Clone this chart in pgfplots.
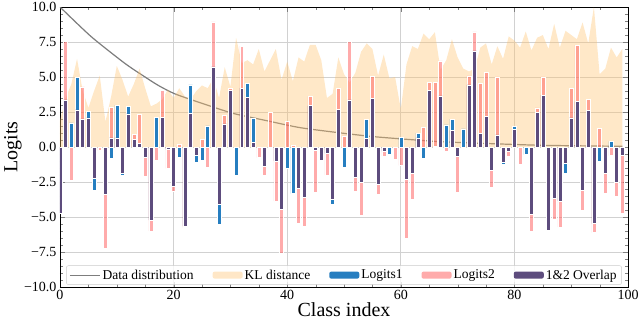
\documentclass[border=0pt]{standalone}
\usepackage{fontspec}
\setmainfont{Liberation Serif}
\usepackage{pgfplots}
\pgfplotsset{compat=1.18}
\usepackage{pgfplotstable}
\usetikzlibrary{calc}

\definecolor{klfill}{RGB}{255,195,110}
\definecolor{l1blue}{RGB}{38,126,192}
\definecolor{l2pink}{RGB}{255,88,88}
\definecolor{ovpurple}{RGB}{93,76,125}
\definecolor{distgray}{RGB}{125,125,125}

% per class: pp/pb/po = positive pink/blue/overlap tops, np/nb/no = negative
\pgfplotstableread{
x pp pb po np nb no
0 nan nan nan nan nan -4.70
1 7.57 nan 3.36 nan nan nan
2 nan 1.73 nan -2.35 nan nan
3 nan 4.96 2.65 nan nan nan
4 4.30 nan 2.01 nan nan nan
5 nan 2.55 2.08 nan nan nan
6 nan nan nan nan -3.10 -2.24
7 nan nan nan -0.25 nan nan
8 nan nan nan -7.20 nan -3.39
9 2.84 nan 0.66 nan -0.78 nan
10 nan 3.00 0.66 nan nan nan
11 nan nan nan nan -2.05 -1.84
12 nan 2.89 2.36 nan nan nan
13 0.90 nan 0.52 nan nan nan
14 2.32 nan 0.24 nan nan nan
15 nan nan nan -2.12 nan -0.71
16 nan nan nan -6.00 nan -5.22
17 nan 2.10 nan -0.94 nan nan
18 4.07 nan 2.10 nan nan nan
19 nan nan nan -1.53 nan -0.19
20 nan nan nan -3.18 nan -2.82
21 0.19 nan nan nan -0.71 nan
22 nan nan nan -5.76 nan -5.65
23 nan 4.44 2.43 nan nan nan
24 nan nan nan nan -1.06 -0.59
25 0.52 nan nan nan -0.94 nan
26 nan 1.51 nan -1.46 nan nan
27 8.94 nan 5.72 nan nan nan
28 nan nan nan nan -5.53 -4.12
29 2.25 nan 1.65 nan nan nan
30 4.20 nan 4.07 nan nan nan
31 nan nan nan nan -2.00 nan
32 7.20 nan 4.20 nan nan nan
33 nan 4.54 3.55 nan nan nan
34 nan 2.08 0.35 nan nan nan
35 nan nan nan -0.75 nan nan
36 nan nan nan -2.05 nan -1.34
37 2.48 nan nan nan nan nan
38 nan nan nan -3.84 nan -0.99
39 nan nan nan -7.60 nan -4.42
40 1.84 nan nan nan -1.50 nan
41 0.12 nan nan nan -3.33 nan
42 nan nan nan -5.46 nan -2.93
43 nan nan nan -5.65 nan -3.57
44 3.62 nan 2.95 nan nan nan
45 nan nan nan -3.20 nan -0.20
46 nan nan nan nan -1.04 -0.97
47 nan nan nan -2.00 nan -0.45
48 nan nan nan nan -4.12 -3.76
49 4.20 nan 2.67 nan nan nan
50 0.80 nan nan nan -1.44 nan
51 7.57 nan 3.36 nan nan nan
52 nan nan nan -3.18 nan -2.16
53 nan nan nan -4.89 nan -2.54
54 nan 1.96 0.59 nan nan nan
55 5.05 nan 3.50 nan nan nan
56 nan nan nan -3.36 nan -2.64
57 nan nan nan -0.66 nan -0.31
58 nan nan nan nan -0.54 nan
59 nan nan nan -0.89 nan nan
60 nan 0.71 nan -1.32 nan nan
61 nan nan nan -6.54 nan -2.30
62 nan nan nan -3.70 nan -1.84
63 nan 0.99 0.66 nan nan nan
64 1.42 nan nan nan -0.82 nan
65 4.61 nan 4.07 nan nan nan
66 4.61 nan 0.05 nan nan nan
67 6.15 nan 3.66 nan nan nan
68 nan 1.58 nan -0.30 nan nan
69 nan 2.00 1.18 nan nan nan
70 nan nan nan -3.25 nan -0.64
71 nan 1.30 nan nan nan nan
72 5.08 nan 4.44 nan nan nan
73 8.23 nan 6.86 nan nan nan
74 4.55 nan 1.00 nan nan nan
75 5.32 nan 2.20 nan nan nan
76 nan nan nan -2.87 nan -1.65
77 5.01 nan 0.87 nan nan nan
78 nan nan nan nan -1.25 -1.06
79 nan nan nan -0.66 nan -0.31
80 nan 1.47 1.25 nan nan nan
81 nan nan nan -1.25 nan nan
82 nan nan nan nan -0.54 nan
83 nan nan nan -6.00 nan -4.82
84 2.79 nan 2.48 nan nan nan
85 5.01 nan 3.71 nan nan nan
86 nan nan nan -6.00 nan -5.93
87 nan nan nan -5.13 nan -3.65
88 nan nan nan -5.72 nan -3.84
89 nan nan nan nan -1.84 -1.13
90 4.18 nan 2.08 nan nan nan
91 7.28 nan 3.24 nan nan nan
92 nan nan nan -4.54 nan -3.10
93 3.38 nan 2.60 nan nan nan
94 nan nan nan -6.12 nan -5.48
95 1.32 nan nan nan -0.99 nan
96 nan nan nan -3.29 nan -1.84
97 nan 0.40 nan -0.61 nan nan
98 nan nan nan -3.53 nan -2.54
99 nan nan nan -4.70 nan -0.61
}\bars

\pgfplotstableread{
x kl
0 1.9
1 3.5
2 4.5
3 6.3
4 4.0
5 2.8
6 4.0
7 5.1
8 1.8
9 3.6
10 5.8
11 4.8
12 3.6
13 4.5
14 5.6
15 4.2
16 2.9
17 3.1
18 3.4
19 4.1
20 3.5
21 4.2
22 3.6
23 3.4
24 4.0
25 4.4
26 4.2
27 4.9
28 3.5
29 5.7
30 4.3
31 7.8
32 6.0
33 6.2
34 5.9
35 7.0
36 5.4
37 6.2
38 7.0
39 4.8
40 6.1
41 4.7
42 6.4
43 6.1
44 7.3
45 7.3
46 6.2
47 3.5
48 3.8
49 6.4
50 5.2
51 4.6
52 5.3
53 6.8
54 7.4
55 7.0
56 5.1
57 6.6
58 4.9
59 5.0
60 2.7
61 5.9
62 7.2
63 7.0
64 8.1
65 7.7
66 8.2
67 5.5
68 6.2
69 7.7
70 6.4
71 5.6
72 5.4
73 5.6
74 7.1
75 7.4
76 5.9
77 7.2
78 6.3
79 7.9
80 7.6
81 7.1
82 8.25
83 6.9
84 7.8
85 8.0
86 7.0
87 8.8
88 7.1
89 8.3
90 8.0
91 7.7
92 8.9
93 7.4
94 10.0
95 5.2
96 5.6
97 7.1
98 6.4
99 7.0
}\kldata

\pgfplotsset{
  barbase/.style={ybar, bar width=0.7, bar shift=0pt, draw=white, line width=0.5pt},
  patchlegend/.style={legend image code/.code={\fill[##1, draw=none] (0pt,-3.5pt) rectangle (30pt,3.5pt);}},
}

\begin{document}
\begin{tikzpicture}
\begin{axis}[
  scale only axis, width=568pt, height=280pt,
  xmin=0, xmax=100, ymin=-10, ymax=10,
  xtick={0,20,40,60,80,100}, xticklabels={0,20,40,60,80,100},
  ytick={-10,-7.5,-5,-2.5,0,2.5,5,7.5,10},
  yticklabels={−10.0,−7.5,−5.0,−2.5,0.0,2.5,5.0,7.5,10.0},
  minor x tick num=3, minor y tick num=4,
  xtick pos=both, ytick pos=both, tick align=inside,
  major tick length=5pt, minor tick length=3pt,
  grid=major, grid style={black!18, line width=0.8pt},
  axis line style={line width=0.6pt},
  tick label style={font=\fontsize{14}{16}\selectfont},
  label style={font=\fontsize{20}{22}\selectfont},
  xlabel={Class index}, ylabel={Logits},
  xlabel style={at={(rel axis cs:0.5,0)}, anchor=center, yshift=-23pt},
  ylabel style={at={(rel axis cs:0,0.5)}, anchor=center, yshift=47pt},
  legend columns=5,
  legend style={at={(0.5,0.008)}, anchor=south, draw=black!20, rounded corners=2pt,
    fill=white, fill opacity=0.8, text opacity=1, inner ysep=2pt,
    font=\fontsize{13.5}{15}\selectfont,
    /tikz/every even column/.append style={column sep=17pt}},
]
\coordinate (sw) at (rel axis cs:0,0);
\coordinate (ne) at (rel axis cs:1,1);

% data distribution
\addplot[distgray, line width=1.2pt, smooth, tension=0.4,
  legend image code/.code={\draw[##1] (0pt,0pt) -- (30pt,0pt);}] coordinates {
  (0,10.0) (5.5,7.88) (11.4,5.98) (14.9,5.02) (17.3,4.4) (20.2,3.8) (25,3.12)
  (30.5,2.4) (36.4,1.88) (42.3,1.38) (49.9,0.98) (55.2,0.74) (61,0.55)
  (66.9,0.38) (74.5,0.26) (85,0.12) (99,0.05)
};
\addlegendentry{Data distribution}

% KL distance
\addplot[patchlegend, draw=none, fill=klfill, fill opacity=0.38] table[x=x, y=kl] {\kldata} \closedcycle;
\addlegendentry{KL distance}

\addplot[barbase, patchlegend, fill=l1blue, fill opacity=1] table[x=x, y=pb] {\bars};
\addlegendentry{Logits1}
\addplot[barbase, patchlegend, fill=l2pink, fill opacity=0.5] table[x=x, y=pp] {\bars};
\addlegendentry{Logits2}
\addplot[barbase, patchlegend, fill=ovpurple, fill opacity=1] table[x=x, y=po] {\bars};
\addlegendentry{1\&2 Overlap}

\addplot[barbase, forget plot, fill=l1blue, fill opacity=1] table[x=x, y=nb] {\bars};
\addplot[barbase, forget plot, fill=l2pink, fill opacity=0.5] table[x=x, y=np] {\bars};
\addplot[barbase, forget plot, fill=ovpurple, fill opacity=1] table[x=x, y=no] {\bars};
\end{axis}
\pgfresetboundingbox
\path[use as bounding box] ($(sw)+(-60pt,-35pt)$) rectangle ($(ne)+(12pt,7pt)$);
\end{tikzpicture}
\end{document}
